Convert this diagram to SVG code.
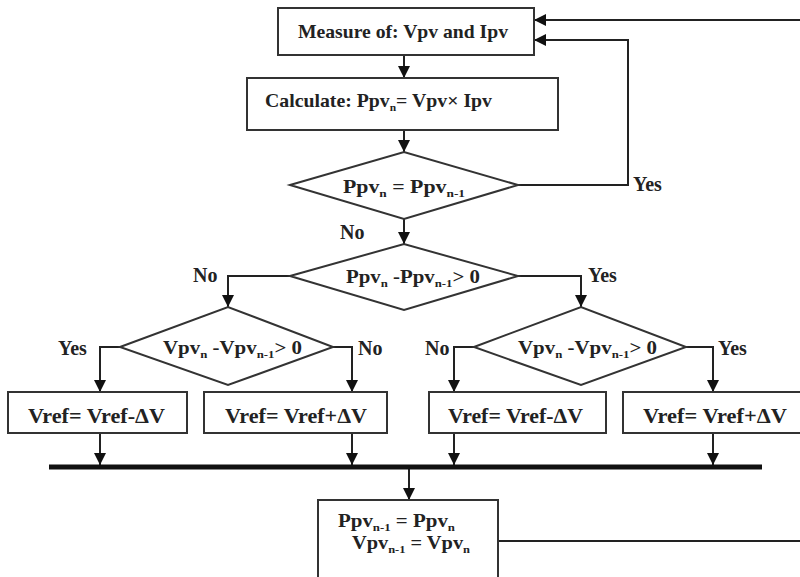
<svg xmlns="http://www.w3.org/2000/svg" width="800" height="577" viewBox="0 0 800 577">
<style>
.box{fill:#fff;stroke:#333;stroke-width:2}
.ln{fill:none;stroke:#222;stroke-width:2}
.t{font-family:"Liberation Serif","Times New Roman",serif;font-weight:bold;fill:#222}
.sub{font-size:11px}
.lbl{font-family:"Liberation Serif","Times New Roman",serif;font-weight:bold;fill:#222;font-size:20px}
</style>
<defs>
<marker id="ah" markerUnits="userSpaceOnUse" markerWidth="12" markerHeight="12" refX="12" refY="6" orient="auto">
<path d="M0,0 L12,6 L0,12 z" fill="#111"/>
</marker>
</defs>
<rect width="800" height="577" fill="#fff"/>

<g id="connectors">
<path class="ln" d="M404,55 V78" marker-end="url(#ah)"/>
<path class="ln" d="M404,130 V152" marker-end="url(#ah)"/>
<path class="ln" d="M518,185 H628 V40 H534" marker-end="url(#ah)"/>
<path class="ln" d="M800,20 H534" marker-end="url(#ah)"/>
<path class="ln" d="M404,219 V244" marker-end="url(#ah)"/>
<path class="ln" d="M290,276 H228 V307" marker-end="url(#ah)"/>
<path class="ln" d="M518,276 H581 V307" marker-end="url(#ah)"/>
<path class="ln" d="M120,347 H100 V392" marker-end="url(#ah)"/>
<path class="ln" d="M333,347 H352 V392" marker-end="url(#ah)"/>
<path class="ln" d="M474,347 H454 V392" marker-end="url(#ah)"/>
<path class="ln" d="M686,347 H713 V392" marker-end="url(#ah)"/>
<path class="ln" d="M100,433 V465" marker-end="url(#ah)"/>
<path class="ln" d="M352,433 V465" marker-end="url(#ah)"/>
<path class="ln" d="M454,433 V465" marker-end="url(#ah)"/>
<path class="ln" d="M713,433 V465" marker-end="url(#ah)"/>
<path class="ln" d="M409,467 V500" marker-end="url(#ah)"/>
<path class="ln" d="M498,541 H800"/>
<line x1="49" y1="467" x2="762" y2="467" stroke="#111" stroke-width="5"/>
<text class="lbl" x="633" y="191">Yes</text>
<text class="lbl" x="340" y="239">No</text>
<text class="lbl" x="193" y="282">No</text>
<text class="lbl" x="588" y="282">Yes</text>
<text class="lbl" x="58" y="355">Yes</text>
<text class="lbl" x="358" y="355">No</text>
<text class="lbl" x="425" y="355">No</text>
<text class="lbl" x="718" y="355">Yes</text>
</g>

<g id="measure">
<rect class="box" x="278" y="8" width="256" height="47"/>
<text class="t" x="298" y="38" font-size="19" textLength="210" lengthAdjust="spacingAndGlyphs">Measure of: Vpv and Ipv</text>
</g>

<g id="calculate">
<rect class="box" x="247" y="78" width="311" height="52"/>
<text class="t" x="265" y="107" font-size="19" textLength="227" lengthAdjust="spacingAndGlyphs">Calculate: Ppv<tspan class="sub" dy="4">n</tspan><tspan dy="-4">= Vpv× Ipv</tspan></text>
</g>

<g id="decision1">
<polygon class="box" points="290,185 404,152 518,185 404,219"/>
<text class="t" x="343" y="193" font-size="18" textLength="122" lengthAdjust="spacingAndGlyphs">Ppv<tspan class="sub" dy="4">n</tspan><tspan dy="-4"> = Ppv</tspan><tspan class="sub" dy="4">n-1</tspan></text>
</g>

<g id="decision2">
<polygon class="box" points="290,276 404,244 518,276 404,310"/>
<text class="t" x="346" y="283" font-size="18" textLength="134" lengthAdjust="spacingAndGlyphs">Ppv<tspan class="sub" dy="4">n</tspan><tspan dy="-4"> -Ppv</tspan><tspan class="sub" dy="4">n-1</tspan><tspan dy="-4">&gt; 0</tspan></text>
</g>

<g id="decision3">
<polygon class="box" points="120,347 228,307 333,347 228,385"/>
<text class="t" x="163" y="354" font-size="18" textLength="139" lengthAdjust="spacingAndGlyphs">Vpv<tspan class="sub" dy="4">n</tspan><tspan dy="-4"> -Vpv</tspan><tspan class="sub" dy="4">n-1</tspan><tspan dy="-4">&gt; 0</tspan></text>
</g>

<g id="decision4">
<polygon class="box" points="474,347 581,307 686,347 581,385"/>
<text class="t" x="518" y="354" font-size="18" textLength="139" lengthAdjust="spacingAndGlyphs">Vpv<tspan class="sub" dy="4">n</tspan><tspan dy="-4"> -Vpv</tspan><tspan class="sub" dy="4">n-1</tspan><tspan dy="-4">&gt; 0</tspan></text>
</g>

<g id="vref1">
<rect class="box" x="8" y="392" width="179" height="41"/>
<text class="t" x="28" y="423" font-size="21" textLength="137" lengthAdjust="spacingAndGlyphs">Vref= Vref-ΔV</text>
</g>
<g id="vref2">
<rect class="box" x="204" y="392" width="183" height="41"/>
<text class="t" x="225" y="423" font-size="21" textLength="142" lengthAdjust="spacingAndGlyphs">Vref= Vref+ΔV</text>
</g>
<g id="vref3">
<rect class="box" x="429" y="392" width="177" height="41"/>
<text class="t" x="448" y="423" font-size="21" textLength="135" lengthAdjust="spacingAndGlyphs">Vref= Vref-ΔV</text>
</g>
<g id="vref4">
<rect class="box" x="623" y="392" width="190" height="41"/>
<text class="t" x="643" y="423" font-size="21" textLength="144" lengthAdjust="spacingAndGlyphs">Vref= Vref+ΔV</text>
</g>

<g id="update">
<rect class="box" x="318" y="500" width="180" height="100"/>
<text class="t" x="338" y="527" font-size="18" textLength="117" lengthAdjust="spacingAndGlyphs">Ppv<tspan class="sub" dy="4">n-1</tspan><tspan dy="-4"> = Ppv</tspan><tspan class="sub" dy="4">n</tspan></text>
<text class="t" x="352" y="549" font-size="18" textLength="118" lengthAdjust="spacingAndGlyphs">Vpv<tspan class="sub" dy="4">n-1</tspan><tspan dy="-4"> = Vpv</tspan><tspan class="sub" dy="4">n</tspan></text>
</g>
</svg>
